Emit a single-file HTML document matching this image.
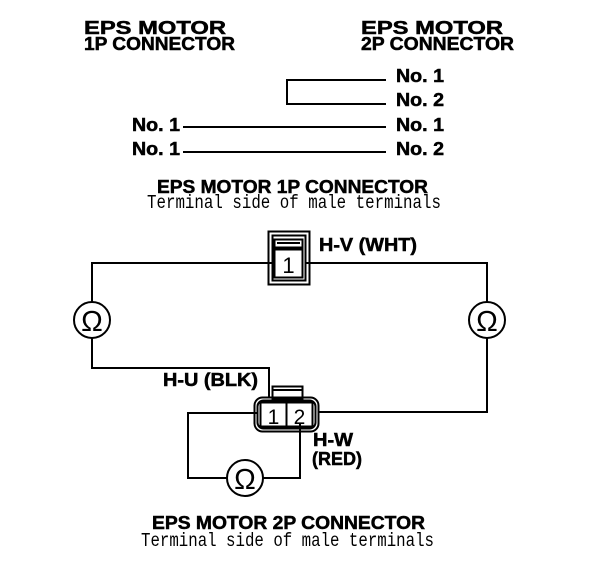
<!DOCTYPE html>
<html><head><meta charset="utf-8"><style>
html,body{margin:0;padding:0;background:#fff;}
svg{display:block;}
.b{font-family:"Liberation Sans",sans-serif;font-weight:bold;font-size:18px;}
.m{font-family:"Liberation Mono",monospace;font-size:19px;}
</style></head><body>
<svg width="608" height="570" viewBox="0 0 608 570" xmlns="http://www.w3.org/2000/svg">
<g class="b" fill="#000" stroke="#000" stroke-width="0.5">
<text x="84" y="34" textLength="142" lengthAdjust="spacingAndGlyphs">EPS MOTOR</text>
<text x="84" y="50" textLength="151" lengthAdjust="spacingAndGlyphs">1P CONNECTOR</text>
<text x="361" y="34" textLength="142" lengthAdjust="spacingAndGlyphs">EPS MOTOR</text>
<text x="361" y="50" textLength="153" lengthAdjust="spacingAndGlyphs">2P CONNECTOR</text>
<text x="396" y="82" textLength="48" lengthAdjust="spacingAndGlyphs">No. 1</text>
<text x="396" y="106" textLength="48" lengthAdjust="spacingAndGlyphs">No. 2</text>
<text x="396" y="131" textLength="48" lengthAdjust="spacingAndGlyphs">No. 1</text>
<text x="396" y="155" textLength="48" lengthAdjust="spacingAndGlyphs">No. 2</text>
<text x="132" y="131" textLength="48" lengthAdjust="spacingAndGlyphs">No. 1</text>
<text x="132" y="155" textLength="48" lengthAdjust="spacingAndGlyphs">No. 1</text>
<text x="157" y="193" textLength="271" lengthAdjust="spacingAndGlyphs">EPS MOTOR 1P CONNECTOR</text>
<text x="319" y="251" textLength="98" lengthAdjust="spacingAndGlyphs">H-V (WHT)</text>
<text x="163" y="386" textLength="95" lengthAdjust="spacingAndGlyphs">H-U (BLK)</text>
<text x="313" y="446" textLength="40" lengthAdjust="spacingAndGlyphs">H-W</text>
<text x="312" y="465" textLength="50" lengthAdjust="spacingAndGlyphs">(RED)</text>
<text x="152" y="529" textLength="273" lengthAdjust="spacingAndGlyphs">EPS MOTOR 2P CONNECTOR</text>
</g>
<g class="m" fill="#000">
<text x="147" y="208" textLength="294" lengthAdjust="spacingAndGlyphs">Terminal side of male terminals</text>
<text x="141" y="546" textLength="293" lengthAdjust="spacingAndGlyphs">Terminal side of male terminals</text>
</g>
<g stroke="#000" stroke-width="2" fill="none">
<polyline points="386,80 287,80 287,104 386,104"/>
<line x1="183" y1="127" x2="386" y2="127"/>
<line x1="183" y1="152" x2="386" y2="152"/>
<polyline points="272,263 92,263 92,302"/>
<polyline points="92,338 92,368 269,368 269,397"/>
<polyline points="306,263 487,263 487,302"/>
<polyline points="487,338 487,412 318,412"/>
<polyline points="257,413 188,413 188,478 227,478"/>
<polyline points="263,478 300,478 300,424"/>
<rect x="268.5" y="231.5" width="41" height="53"/>
<rect x="272.5" y="235.5" width="33" height="45"/>
<rect x="274.5" y="239.5" width="28" height="8"/>
<line x1="277" y1="243" x2="300" y2="243"/>
<rect x="274.5" y="249.5" width="28" height="28"/>
<rect x="272.5" y="386.5" width="30" height="12"/>
<line x1="273" y1="390" x2="302" y2="390"/>
<rect x="254.5" y="397.5" width="64" height="34" rx="8"/>
<rect x="257.5" y="400.5" width="58" height="28" rx="6"/>
<rect x="260.5" y="402.5" width="52" height="24"/>
<line x1="286.5" y1="402" x2="286.5" y2="427"/>
<circle cx="92" cy="320" r="18"/>
<circle cx="487" cy="320" r="18"/>
<circle cx="245" cy="478" r="18"/>
</g>
<g font-family="Liberation Sans,sans-serif" fill="#000" text-anchor="middle">
<text x="288.5" y="273" font-size="22">1</text>
<text x="273.5" y="424" font-size="21">1</text>
<text x="299.5" y="424" font-size="21">2</text>
<text x="92" y="331" font-size="29">Ω</text>
<text x="487" y="331" font-size="29">Ω</text>
<text x="245" y="489" font-size="29">Ω</text>
</g>
</svg>
</body></html>
